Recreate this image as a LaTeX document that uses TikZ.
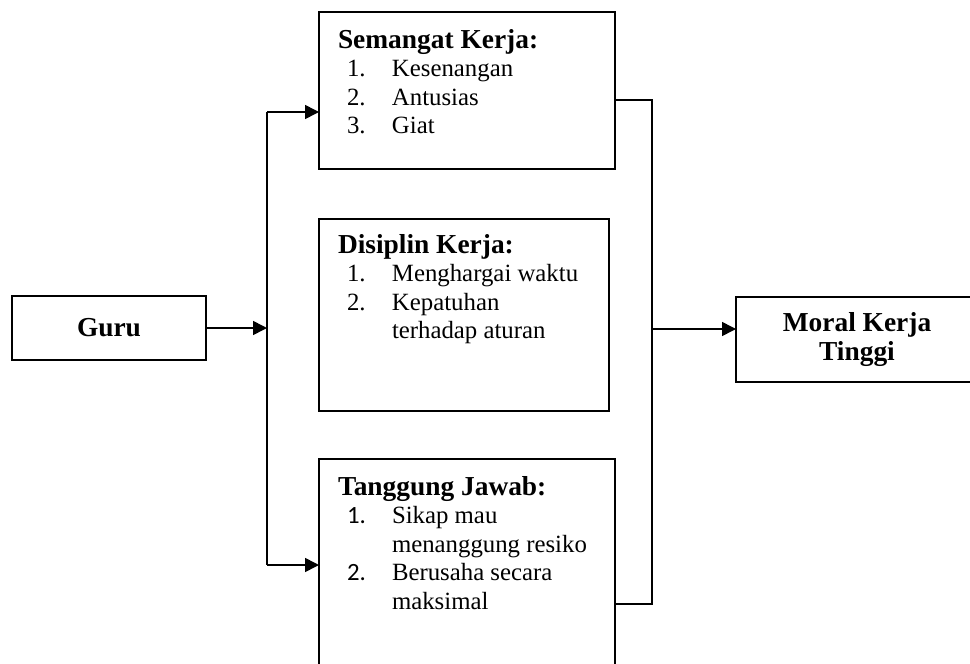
\documentclass[tikz,border=0pt]{standalone}
\usepackage{fontspec}
\setmainfont{Liberation Serif}
\newfontfamily\angka{Carlito}
\usetikzlibrary{arrows.meta, positioning}

\newcommand{\judul}[1]{{\fontsize{13.7pt}{14.5pt}\selectfont\bfseries #1}}

\tikzset{
  kotak/.style={draw, line width=0.9pt, outer sep=0pt, inner sep=0pt},
  isi/.style={anchor=base west, inner sep=0pt, outer sep=0pt},
  garis/.style={line width=0.8pt},
  panah/.style={garis, -{Triangle[length=7pt, width=7pt]}}
}

\begin{document}
\begin{tikzpicture}[x=0.5pt, y=-0.5pt, font=\fontsize{12.4pt}{14.3pt}\selectfont]
            \useasboundingbox (0,0) rectangle (970,664);
            \clip (0,0) rectangle (970,664);

            % Draw the boxes
            \node[kotak, minimum width=97pt, minimum height=32pt] (guru) at (109,328) {\judul{Guru}};
            \node[kotak, minimum width=148pt, minimum height=78.5pt] (semangat) at (467,90.5) {};
            \node[kotak, minimum width=145pt, minimum height=96pt] (disiplin) at (464,315) {};
            \node[kotak, minimum width=148pt, minimum height=120.5pt] (tanggung) at (467,579.5) {};
            \node[kotak, minimum width=121pt, minimum height=42.5pt, align=center,
                  font=\fontsize{13.7pt}{14.5pt}\selectfont\bfseries] (moral) at (857,339.5) {Moral Kerja\\Tinggi};

            % Fill in the lists
            \node[isi] (semangat isi) at (338,48) {\begin{tabular}[t]{@{}l@{}}
              \judul{Semangat Kerja:}\\
              \hspace*{4.5pt}\makebox[22.5pt][l]{1.}Kesenangan\\
              \hspace*{4.5pt}\makebox[22.5pt][l]{2.}Antusias\\
              \hspace*{4.5pt}\makebox[22.5pt][l]{3.}Giat
            \end{tabular}};
            \node[isi] (disiplin isi) at (338,253) {\begin{tabular}[t]{@{}l@{}}
              \judul{Disiplin Kerja:}\\
              \hspace*{4.5pt}\makebox[22.5pt][l]{1.}Menghargai waktu\\
              \hspace*{4.5pt}\makebox[22.5pt][l]{2.}Kepatuhan\\
              \hspace*{27pt}terhadap aturan
            \end{tabular}};
            \node[isi] (tanggung isi) at (338,495) {\begin{tabular}[t]{@{}l@{}}
              \judul{Tanggung Jawab:}\\
              \hspace*{4.5pt}\makebox[22.5pt][l]{\angka 1.}Sikap mau\\
              \hspace*{27pt}menanggung resiko\\
              \hspace*{4.5pt}\makebox[22.5pt][l]{\angka 2.}Berusaha secara\\
              \hspace*{27pt}maksimal
            \end{tabular}};

            % Branch points
            \coordinate (cabang) at (267,330);
            \coordinate (kiri atas) at (267,112);
            \coordinate (kiri bawah) at (267,565);
            \coordinate (kanan atas) at (652,100);
            \coordinate (kanan tengah) at (652,329);
            \coordinate (kanan bawah) at (652,604);

            % Draw the connectors
            \draw[panah] (guru.east) -- (guru.east -| cabang);
            \draw[garis] (kiri atas) -- (kiri bawah);
            \draw[panah] (kiri atas) -- (kiri atas -| semangat.west);
            \draw[panah] (kiri bawah) -- (kiri bawah -| tanggung.west);
            \draw[garis] (kanan atas -| semangat.east) -- (kanan atas) -- (kanan bawah) -- (kanan bawah -| tanggung.east);
            \draw[panah] (kanan tengah) -- (kanan tengah -| moral.west);
        \end{tikzpicture}
\end{document}
